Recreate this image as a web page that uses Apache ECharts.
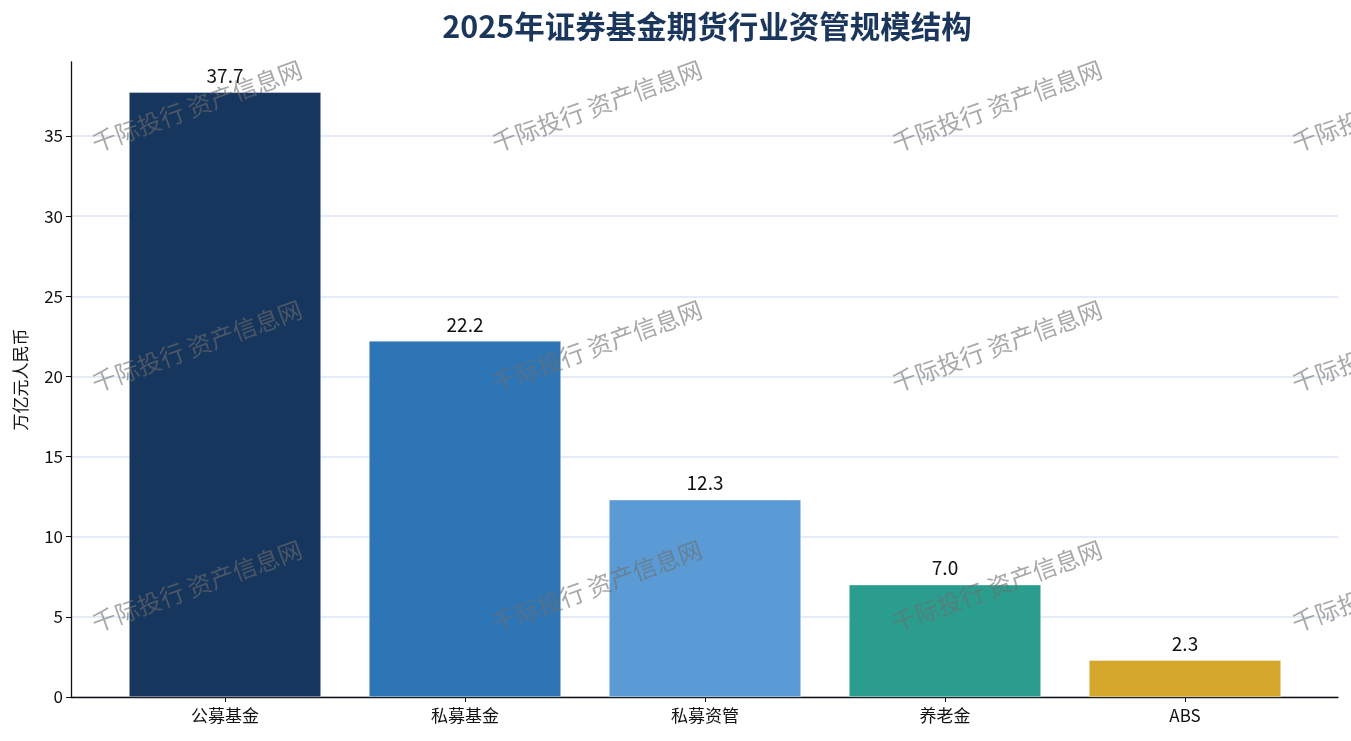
<!DOCTYPE html>
<html>
<head>
    <meta charset="utf-8" />
    <title>2025年证券基金期货行业资管规模结构</title>
    <style>
        html, body { margin: 0; padding: 0; background: #fff; }
        #main { width: 1351px; height: 741px; }
    </style>
</head>
<body>
    <div id="main"></div>
    <script src="https://cdn.jsdelivr.net/npm/echarts@6/dist/echarts.min.js"></script>
    <script>
        var categories = ['公募基金', '私募基金', '私募资管', '养老金', 'ABS'];
        var values = [37.7, 22.2, 12.3, 7.0, 2.3];
        var barColors = ['#17365d', '#2e75b6', '#5b9bd5', '#2a9d8f', '#d4a72c'];
        var yTicks = [0, 5, 10, 15, 20, 25, 30, 35];

        var FONT = '"Noto Sans CJK SC", "Noto Sans", sans-serif';
        var yMax = values[0] * 1.05;   // headroom above the tallest bar

        // watermark, repeated over the plot
        var wm = [];
        [106, 346, 586].forEach(function (cy) {
            [197, 597, 997, 1397].forEach(function (cx) {
                wm.push({
                    type: 'text', x: cx, y: cy, rotation: 20 * Math.PI / 180, z: 100,
                    silent: true,
                    style: {
                        text: '千际投行 资产信息网', align: 'center', verticalAlign: 'middle',
                        font: '24px ' + FONT, fill: 'rgba(110,110,110,0.6)'
                    }
                });
            });
        });

        var chart = echarts.init(document.getElementById('main'));
        chart.setOption({
            animation: false,
            textStyle: { fontFamily: FONT },
            title: {
                text: '2025年证券基金期货行业资管规模结构',
                left: 702, top: 6, textAlign: 'center',
                textStyle: { fontSize: 30.5, fontWeight: 'bold', color: '#1b365d', fontFamily: FONT }
            },
            graphic: wm,
            grid: [
                // ticks, labels and grid lines (0..35)
                { left: 71, right: 13, top: 136, bottom: 44 },
                // bars
                { left: 105, right: 46, top: 62, bottom: 44 }
            ],
            xAxis: [
                {
                    gridIndex: 0, type: 'value', min: 0, max: 1,
                    axisLine: { show: true, lineStyle: { color: '#111', width: 1.3 } },
                    axisTick: { show: false }, axisLabel: { show: false }, splitLine: { show: false }
                },
                {
                    gridIndex: 1, type: 'category', data: categories,
                    axisLine: { show: false },
                    axisTick: { show: true, alignWithLabel: true, length: 5, lineStyle: { color: '#111' } },
                    axisLabel: { fontSize: 17, color: '#111', margin: 10 }
                }
            ],
            yAxis: [
                {
                    gridIndex: 0, type: 'value', min: yTicks[0], max: yTicks[yTicks.length - 1], interval: 5,
                    axisLine: { show: false },
                    axisTick: { show: true, length: 5, lineStyle: { color: '#111' } },
                    axisLabel: { fontSize: 17, color: '#111', margin: 8 },
                    splitLine: { show: true, lineStyle: { color: '#dce6f5', width: 1.5 } }
                },
                {
                    gridIndex: 1, type: 'value', min: 0, max: yMax, offset: 34,
                    name: '万亿元人民币', nameLocation: 'middle', nameGap: 42, nameRotate: 90,
                    nameTextStyle: { fontSize: 17, color: '#111' },
                    axisLine: { show: true, lineStyle: { color: '#111', width: 1.3 } },
                    axisTick: { show: false }, axisLabel: { show: false }, splitLine: { show: false }
                }
            ],
            series: [
                {
                    type: 'bar', xAxisIndex: 1, yAxisIndex: 1,
                    barWidth: '80%',
                    data: values.map(function (v, i) {
                        return { value: v, itemStyle: { color: barColors[i] } };
                    }),
                    itemStyle: { borderColor: 'rgba(255,255,255,0.6)', borderWidth: 0.6 },
                    label: {
                        show: true, position: 'top', distance: 7,
                        fontSize: 19, color: '#111',
                        formatter: function (p) { return p.value.toFixed(1); }
                    }
                }
            ]
        });
    </script>
</body>
</html>
